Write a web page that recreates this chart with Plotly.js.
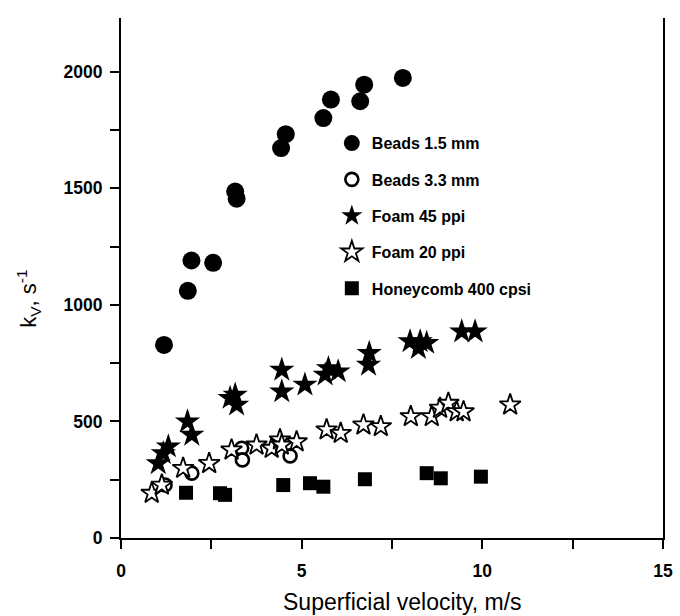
<!DOCTYPE html>
<html>
<head>
<meta charset="utf-8">
<script src="https://cdn.plot.ly/plotly-3.0.1.min.js"></script>
<style>html,body{margin:0;padding:0;background:#fff;}#chart{width:680px;height:616px;}</style>
</head>
<body>
<div id="chart"></div>
<script>
// Data
const beads15_x = [1.19, 1.85, 1.95, 2.55, 3.16, 3.20, 4.43, 4.56, 5.60, 5.81, 6.62, 6.73, 7.80];
const beads15_y = [828, 1060, 1190, 1180, 1486, 1455, 1672, 1732, 1801, 1880, 1873, 1944, 1973];

const beads33_x = [1.22, 1.96, 3.34, 3.36, 4.68];
const beads33_y = [227, 278, 385, 335, 352];

const foam45_x = [1.03, 1.17, 1.31, 1.84, 1.96, 3.02, 3.16, 3.20, 4.45, 4.45, 5.09, 5.65, 5.74, 6.01, 6.85, 6.87, 8.00, 8.23, 8.28, 8.46, 9.43, 9.80];
const foam45_y = [320, 363, 392, 499, 442, 600, 614, 571, 721, 628, 657, 700, 728, 714, 742, 793, 843, 814, 843, 836, 885, 885];

const foam20_x = [0.85, 1.13, 1.72, 2.44, 3.06, 3.75, 4.17, 4.40, 4.45, 4.86, 5.69, 6.08, 6.71, 7.19, 8.02, 8.60, 8.83, 9.06, 9.29, 9.48, 10.77];
const foam20_y = [192, 227, 299, 320, 378, 399, 385, 421, 399, 413, 464, 449, 485, 478, 521, 521, 557, 578, 542, 542, 571];

const honey_x = [1.80, 2.74, 2.88, 4.49, 5.23, 5.60, 6.75, 8.46, 8.85, 9.96];
const honey_y = [194, 192, 185, 227, 235, 220, 252, 278, 256, 263];

const seriesNames = ["Beads 1.5 mm", "Beads 3.3 mm", "Foam 45 ppi", "Foam 20 ppi", "Honeycomb 400 cpsi"];

// Axis ticks (minor ticks carry an empty label)
const xTickVals = [0, 2.5, 5, 7.5, 10, 12.5, 15];
const xTickText = ["0", "", "5", "", "10", "", "15"];
const yTickVals = [0, 250, 500, 750, 1000, 1250, 1500, 1750, 2000];
const yTickText = ["0", "", "500", "", "1000", "", "1500", "", "2000"];

const FONT = "Liberation Sans, Arial, sans-serif";

const traces = [
  {x: beads15_x, y: beads15_y, name: seriesNames[0], legendgroup: "g1",
   marker: {symbol: "circle", size: 18, color: "#000"}},
  {x: beads33_x, y: beads33_y, name: seriesNames[1], legendgroup: "g2",
   marker: {symbol: "circle", size: 13, color: "#fff", line: {color: "#000", width: 2.6}}},
  {x: foam45_x, y: foam45_y, name: seriesNames[2], legendgroup: "g3",
   marker: {symbol: "star", size: 19, color: "#000"}},
  {x: foam20_x, y: foam20_y, name: seriesNames[3], legendgroup: "g4",
   marker: {symbol: "star", size: 16, color: "#fff", line: {color: "#000", width: 1.8}}},
  {x: honey_x, y: honey_y, name: seriesNames[4], legendgroup: "g5",
   marker: {symbol: "square", size: 14, color: "#000"}}
].map(t => Object.assign({type: "scatter", mode: "markers"}, t));

const tickFont = {family: FONT, size: 17.5, color: "#000", weight: "bold"};

const layout = {
  width: 680, height: 616,
  margin: {l: 121, r: 17, t: 18, b: 78},
  paper_bgcolor: "#fff", plot_bgcolor: "#fff",
  showlegend: true,
  legend: {x: 0.389, xanchor: "left", y: 0.792, yanchor: "top",
           font: {family: FONT, size: 16, color: "#000", weight: "bold"},
           bgcolor: "rgba(0,0,0,0)", tracegroupgap: 12.5, itemsizing: "trace"},
  xaxis: {range: [0, 15], tickmode: "array", tickvals: xTickVals, ticktext: xTickText,
          showgrid: false, zeroline: false,
          showline: true, linecolor: "#000", linewidth: 2, mirror: false,
          ticks: "outside", ticklen: 9, tickwidth: 2, tickcolor: "#000",
          ticklabelstandoff: 7, tickfont: tickFont},
  yaxis: {range: [0, 2230], tickmode: "array", tickvals: yTickVals, ticktext: yTickText,
          showgrid: false, zeroline: false,
          showline: true, linecolor: "#000", linewidth: 2, mirror: true,
          ticks: "outside", ticklen: 9, tickwidth: 2, tickcolor: "#000",
          ticklabelstandoff: 4, tickfont: tickFont},
  annotations: [
    {text: "Superficial velocity, m/s", xref: "paper", yref: "paper", x: 0.52, y: -0.123,
     xanchor: "center", yanchor: "middle", showarrow: false,
     font: {family: FONT, size: 23, color: "#000"}},
    {text: "k<sub>V</sub>, s<sup>-1</sup>", xref: "paper", yref: "paper", x: -0.17, y: 0.46,
     xanchor: "center", yanchor: "middle", showarrow: false, textangle: -90,
     font: {family: FONT, size: 22, color: "#000"}}
  ]
};

Plotly.newPlot("chart", traces, layout, {displayModeBar: false, staticPlot: true});
</script>
</body>
</html>
